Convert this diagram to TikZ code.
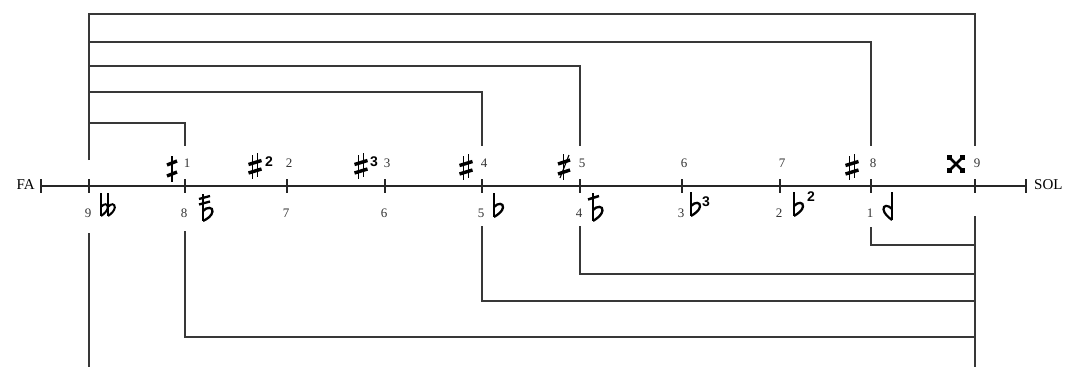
\documentclass[tikz,border=0pt]{standalone}
\usepackage{fontspec}
\usetikzlibrary{calc}
\setmainfont{Liberation Serif}
\newfontfamily\supfont{Liberation Sans}
\begin{document}
\begin{tikzpicture}[x=1pt,y=-1pt,
  wire/.style={draw=black!78,line width=1.3pt},
  axisline/.style={draw=black!85,line width=1.3pt},
  tickmark/.style={draw=black!85,line width=1.1pt},
  degree/.style={font=\fontsize{13}{13}\selectfont,text=black!80,inner sep=0pt},
  endname/.style={font=\fontsize{15}{15}\selectfont,inner sep=0pt},
  supnum/.style={font=\supfont\bfseries\fontsize{14}{14}\selectfont,inner sep=0pt},
  % sharp, centred on its middle
  sharpsym/.pic={
    \draw[line width=1.5pt] (-2.7,-11) -- (-2.7,13);
    \draw[line width=1.5pt] (2.7,-13) -- (2.7,11);
    \draw[line width=3.4pt] (-6.5,-1.5) -- (6.5,-5.5);
    \draw[line width=3.4pt] (-6.5,7) -- (6.5,3);
  },
  % half sharp: one stem, two bars
  halfsharpsym/.pic={
    \draw[line width=1.5pt] (0,-12) -- (0,14);
    \draw[line width=3.4pt] (-5,-3) -- (5,-7);
    \draw[line width=3.4pt] (-5,8) -- (5,4);
  },
  % half sharp with a crossing slash
  slashsharpsym/.pic={
    \draw[line width=1.5pt] (-0.5,-12) -- (-0.5,14);
    \draw[line width=1.1pt] (5,-11) -- (-4,12);
    \draw[line width=3.4pt] (-6,-2) -- (6,-6);
    \draw[line width=3.4pt] (-6,8) -- (6,4);
  },
  % double sharp
  dblsharpsym/.pic={
    \draw[line width=2.8pt] (-6,-6) -- (6,6) (-6,6) -- (6,-6);
    \fill (-9,-9) rectangle (-3.8,-3.8);
    \fill (9,-9) rectangle (3.8,-3.8);
    \fill (-9,9) rectangle (-3.8,3.8);
    \fill (9,9) rectangle (3.8,3.8);
  },
  % flat, origin at the top of its stem
  flatsym/.pic={
    \draw[line width=1.6pt] (0,0) -- (0,24);
    \draw[line width=2.3pt] (0,14) .. controls (4,9.5) and (9.5,10) .. (9,14.5)
      .. controls (8.5,18.5) and (4,21.5) .. (0,24);
  },
  smallflatsym/.pic={
    \draw[line width=1.4pt] (0,0) -- (0,23);
    \draw[line width=2pt] (0,14) .. controls (3,10) and (7,10.5) .. (6.8,14.5)
      .. controls (6.4,18) and (3,21) .. (0,23);
  },
  % reversed flat, origin at the top of its stem
  revflatsym/.pic={
    \draw[line width=1.5pt] (0,0) -- (0,28);
    \draw[line width=2.2pt] (0,17) .. controls (-4,12.5) and (-9,13) .. (-8.5,17.5)
      .. controls (-8,21.5) and (-4,25) .. (0,28);
  },
  % flat with one bar through the stem
  barflatsym/.pic={
    \draw[line width=1.6pt] (0,0) -- (0,28);
    \draw[line width=2.5pt] (-5,6.5) -- (6,3);
    \draw[line width=2.3pt] (0,17) .. controls (4,12.5) and (10,13) .. (9.5,17.5)
      .. controls (9,22) and (4,25.5) .. (0,28);
  },
  % flat with two bars through the stem
  twobarflatsym/.pic={
    \draw[line width=1.6pt] (0,0) -- (0,27);
    \draw[line width=2.3pt] (-4,5) -- (7,2);
    \draw[line width=2.3pt] (-4,10.5) -- (7,7.5);
    \draw[line width=2.3pt] (0,17) .. controls (4,12.5) and (10,13) .. (9.5,17.5)
      .. controls (9,22) and (4,25) .. (0,27);
  }
]
\useasboundingbox (0,0) rectangle (1066,367);

% axis with its end ticks
\coordinate (fa) at (41,186);
\coordinate (sol) at (1026,186);
\draw[axisline] (fa) -- (sol);
\draw[tickmark] (fa) ++(0,-7) -- ++(0,14);
\draw[tickmark] (sol) ++(0,-7) -- ++(0,14);
\node[endname,anchor=east] (faname) at (35,185) {FA};
\node[endname,anchor=west] (solname) at (1034,185) {SOL};

% degree ticks
\foreach \n/\x in {0/89,1/185,2/287,3/385,4/482,5/580,6/682,7/780,8/871,9/975}{
  \coordinate (k\n) at (\x,186);
  \draw[tickmark] (k\n) ++(0,-7) -- ++(0,14);
}

% numbers above the axis
\foreach \n in {1,...,9}{
  \node[degree] (up\n) at ($(k\n)+(2,-23)$) {\n};
}
% numbers below the axis
\foreach \n/\v in {0/9,1/8,2/7,3/6,4/5,5/4,6/3,7/2,8/1}{
  \node[degree] (dn\n) at ($(k\n)+(-1,27)$) {\v};
}

% accidentals above
\pic at (172,168) {halfsharpsym};
\pic at (255,166) {sharpsym};
\node[supnum] (sup2) at (269,162) {2};
\pic at (361,166) {sharpsym};
\node[supnum] (sup3) at (374,162) {3};
\pic at (466,167) {sharpsym};
\pic at (564,166) {slashsharpsym};
\pic at (852,167) {sharpsym};
\pic at (956,164) {dblsharpsym};

% accidentals below
\pic at (101,193) {smallflatsym};
\pic at (108,193) {smallflatsym};
\pic at (203,194) {twobarflatsym};
\pic at (494,193) {flatsym};
\pic at (593,193) {barflatsym};
\pic at (691,192) {flatsym};
\node[supnum] (sup3b) at (706,202) {3};
\pic at (794,192) {flatsym};
\node[supnum] (sup2b) at (811,197) {2};
\pic at (892,192) {revflatsym};

% connector ends above the axis
\coordinate (u0) at (89,160);
\coordinate (u1) at (185,146);
\coordinate (u4) at (482,146);
\coordinate (u5) at (580,146);
\coordinate (u8) at (871,146);
\coordinate (u9) at (975,146);
\coordinate (a9) at (975,14);
\coordinate (a8) at (871,42);
\coordinate (a5) at (580,66);
\coordinate (a4) at (482,92);
\coordinate (a1) at (185,123);

\draw[wire] (u0) |- (a9) -- (u9);
\draw[wire] (u0 |- a8) -- (a8) -- (u8);
\draw[wire] (u0 |- a5) -- (a5) -- (u5);
\draw[wire] (u0 |- a4) -- (a4) -- (u4);
\draw[wire] (u0 |- a1) -- (a1) -- (u1);

% connector ends below the axis
\coordinate (d0) at (89,233);
\coordinate (d1) at (185,231);
\coordinate (d4) at (482,226);
\coordinate (d5) at (580,226);
\coordinate (d8) at (871,227);
\coordinate (d9) at (975,216);
\coordinate (z0) at (89,367);
\coordinate (z9) at (975,367);
\coordinate (b8) at (975,245);
\coordinate (b5) at (975,274);
\coordinate (b4) at (975,301);
\coordinate (b1) at (975,337);

\draw[wire] (d0) -- (z0);
\draw[wire] (d9) -- (z9);
\draw[wire] (d8) |- (b8);
\draw[wire] (d5) |- (b5);
\draw[wire] (d4) |- (b4);
\draw[wire] (d1) |- (b1);
\end{tikzpicture}
\end{document}
